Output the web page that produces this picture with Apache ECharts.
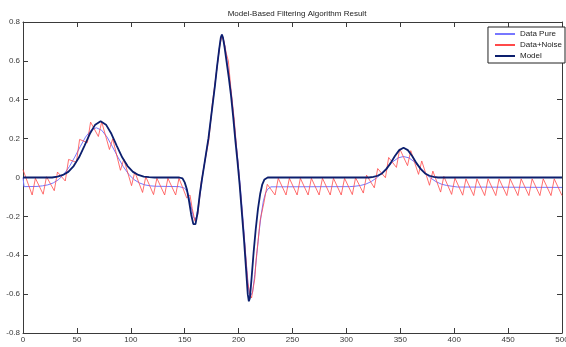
<!DOCTYPE html>
<html>
<head>
<meta charset="utf-8">
<script src="https://cdn.jsdelivr.net/npm/echarts@6/dist/echarts.min.js"></script>
<style>
  html, body { margin: 0; padding: 0; background: #fff; }
  #chart { width: 566px; height: 347px; }
</style>
</head>
<body>
<div id="chart"></div>
<script>
// x ticks / y ticks
const xTicks = [0, 50, 100, 150, 200, 250, 300, 350, 400, 450, 500];
const yTicks = [-0.8, -0.6, -0.4, -0.2, 0, 0.2, 0.4, 0.6, 0.8];

// Data Pure
const pureX = [0, 1, 13, 18, 23, 28, 33, 38, 43, 48, 53, 58, 63, 68, 73, 78, 83, 88, 93, 98, 103, 108, 113, 118, 123,
  145, 150, 153, 156, 158, 159.5, 161, 163, 165, 167, 168, 170, 172, 174, 176, 178, 180, 182, 183.5, 184.5, 185.5,
  187.5, 189.5, 191.5, 193.5, 195.5, 197.5, 199.5, 201, 203, 205, 207, 209, 210.5, 211.5, 213, 215, 217, 219, 221,
  223, 225, 227, 230, 303, 308, 313, 318, 323, 328, 333, 338, 343, 348, 353, 358, 363, 368, 373, 378, 383, 388, 393,
  398, 403, 500];
const pureY = [0, -0.047, -0.046, -0.043, -0.038, -0.028, -0.011, 0.017, 0.056, 0.105, 0.158, 0.208, 0.243, 0.256,
  0.243, 0.208, 0.158, 0.105, 0.056, 0.017, -0.011, -0.028, -0.038, -0.043, -0.045,
  -0.047, -0.055, -0.08, -0.15, -0.2, -0.217, -0.2, -0.13, -0.06, 0.025, 0.06, 0.13, 0.2, 0.29, 0.38, 0.47, 0.57,
  0.66, 0.72, 0.735, 0.72, 0.67, 0.59, 0.51, 0.42, 0.31, 0.19, 0.08, -0.01, -0.14, -0.28, -0.43, -0.56, -0.615,
  -0.625, -0.59, -0.5, -0.39, -0.28, -0.19, -0.12, -0.08, -0.06, -0.048, -0.047, -0.045, -0.041, -0.034, -0.021,
  -0.002, 0.024, 0.053, 0.081, 0.101, 0.108, 0.101, 0.081, 0.053, 0.024, -0.002, -0.021, -0.034, -0.041, -0.045,
  -0.049, -0.051];

// Data+Noise
const noiseX = [0, 8.5, 11.5, 18.7, 21.8, 29.0, 32.0, 39.2, 42.3, 49.5, 52.5, 59.7, 62.7, 69.9, 73.0, 80.2, 83.2,
  90.4, 93.5, 100.7, 103.7, 110.9, 113.9, 121.1, 124.2, 131.4, 134.4, 141.6, 144.7, 151.9, 154.9, 157, 159.5, 162.1,
  163.6, 165.1, 168, 170, 172.3, 173.8, 175.4, 178, 180, 182.6, 184.6, 186.5, 188.5, 190.5, 192.8, 195.9, 198, 200,
  203.1, 206.1, 208.5, 210.5, 212, 213.3, 215, 216.3, 218, 220, 223.5, 226.6, 233.8, 236.8, 244.0, 247.1, 254.3,
  257.3, 264.5, 267.5, 274.7, 277.8, 285.0, 288.0, 295.2, 298.3, 305.5, 308.5, 315.7, 318.7, 325.9, 329.0, 336.2,
  339.2, 346.4, 349.5, 356.7, 359.7, 366.9, 369.9, 377.1, 380.2, 387.4, 390.4, 397.6, 400.7, 407.9, 410.9, 418.1,
  421.1, 428.3, 431.4, 438.6, 441.6, 448.8, 451.9, 459.1, 462.1, 469.3, 472.3, 479.5, 482.6, 489.8, 492.8, 500];
const noiseY = [0.04, -0.09, -0.004, -0.086, 0.004, -0.068, 0.028, -0.018, 0.093, 0.078, 0.196, 0.179, 0.285, 0.211,
  0.286, 0.144, 0.199, 0.037, 0.094, -0.042, 0.029, -0.077, 0.004, -0.088, -0.004, -0.09, -0.004, -0.09, -0.004,
  -0.105, -0.09, -0.16, -0.225, -0.19, -0.12, -0.03, 0.06, 0.12, 0.19, 0.27, 0.37, 0.48, 0.565, 0.68, 0.73, 0.70,
  0.64, 0.60, 0.46, 0.30, 0.16, 0.04, -0.17, -0.37, -0.54, -0.60, -0.62, -0.61, -0.52, -0.42, -0.33, -0.22, -0.13,
  -0.035, -0.09, -0.004, -0.09, -0.004, -0.09, -0.004, -0.09, -0.004, -0.09, -0.004, -0.09, -0.004, -0.09, -0.004,
  -0.088, -0.001, -0.080, 0.012, -0.053, 0.046, -0.001, 0.103, 0.052, 0.147, 0.061, 0.138, 0.016, 0.085, -0.040,
  0.033, -0.075, 0.006, -0.087, -0.003, -0.091, -0.007, -0.093, -0.007, -0.093, -0.007, -0.093, -0.007, -0.093,
  -0.007, -0.093, -0.007, -0.093, -0.007, -0.093, -0.007, -0.093, -0.007, -0.093];

// Model
const modelX = [0, 27, 32, 37, 42, 47, 52, 57, 62, 67, 72, 77, 82, 87, 92, 97, 102, 107, 112, 117, 122, 145, 148, 150,
  152, 154, 156, 158, 159, 160, 162, 164, 166, 168, 170, 172, 174, 176, 178, 180, 182, 183.5, 184.5, 185.5, 187, 189,
  191, 193, 195, 197, 199, 201, 203, 205, 207, 208.5, 209.5, 210.5, 212, 214, 216, 218, 220, 222, 224, 227, 321, 325,
  329, 333, 337, 341, 345, 349, 353, 357, 361, 365, 369, 373, 377, 381, 385, 500];
const modelY = [0, 0, 0.005, 0.013, 0.029, 0.059, 0.104, 0.163, 0.225, 0.272, 0.29, 0.272, 0.225, 0.163, 0.104, 0.059,
  0.029, 0.013, 0.005, 0.002, 0, 0, -0.005, -0.025, -0.06, -0.12, -0.19, -0.24, -0.248, -0.24, -0.18, -0.085, -0.01,
  0.06, 0.13, 0.2, 0.29, 0.38, 0.47, 0.57, 0.66, 0.72, 0.735, 0.72, 0.67, 0.59, 0.51, 0.42, 0.31, 0.19, 0.08, -0.04,
  -0.18, -0.32, -0.48, -0.6, -0.637, -0.62, -0.52, -0.38, -0.26, -0.16, -0.085, -0.035, -0.01, 0, 0, 0.003, 0.009,
  0.021, 0.043, 0.074, 0.111, 0.141, 0.153, 0.141, 0.111, 0.074, 0.043, 0.021, 0.009, 0.003, 0, 0];

const zip = (xs, ys) => xs.map((x, i) => [x, ys[i]]);
const font = 'Liberation Sans, Arial, sans-serif';

const axisCommon = {
  type: 'value',
  axisLine: { show: true, onZero: false, lineStyle: { color: '#3a3a3a', width: 1 } },
  axisTick: { show: true, inside: true, length: 5, lineStyle: { color: '#3a3a3a', width: 1 } },
  splitLine: { show: false },
  axisLabel: { fontSize: 8, color: '#3a3a3a', fontFamily: font, margin: 3 }
};

const chart = echarts.init(document.getElementById('chart'), null, { renderer: 'canvas' });
chart.setOption({
  animation: false,
  backgroundColor: '#fff',
  title: {
    text: 'Model-Based Filtering Algorithm Result',
    left: 292,
    textAlign: 'center',
    top: 5,
    textStyle: { fontSize: 8, fontWeight: 'normal', color: '#222', fontFamily: font }
  },
  grid: { left: 23, right: 4, top: 22, bottom: 14, outerBoundsMode: 'none' },
  legend: {
    orient: 'vertical',
    right: 1,
    top: 27,
    icon: 'rect',
    itemWidth: 20,
    itemHeight: 2,
    itemGap: 3,
    padding: [3, 3, 3, 7],
    borderColor: '#222',
    borderWidth: 1,
    backgroundColor: '#fff',
    textStyle: { fontSize: 8, color: '#222', fontFamily: font },
    data: ['Data Pure', 'Data+Noise', 'Model']
  },
  xAxis: [
    Object.assign({}, axisCommon, {
      min: xTicks[0], max: xTicks[xTicks.length - 1], interval: 50, position: 'bottom'
    }),
    Object.assign({}, axisCommon, {
      min: xTicks[0], max: xTicks[xTicks.length - 1], interval: 50, position: 'top',
      axisLabel: { show: false }
    })
  ],
  yAxis: [
    Object.assign({}, axisCommon, {
      min: yTicks[0], max: yTicks[yTicks.length - 1], interval: 0.2, position: 'left'
    }),
    Object.assign({}, axisCommon, {
      min: yTicks[0], max: yTicks[yTicks.length - 1], interval: 0.2, position: 'right',
      axisLabel: { show: false }
    })
  ],
  series: [
    {
      name: 'Data Pure',
      type: 'line',
      showSymbol: false,
      data: zip(pureX, pureY),
      lineStyle: { color: '#7777ff', width: 1 },
      itemStyle: { color: '#7777ff' }
    },
    {
      name: 'Data+Noise',
      type: 'line',
      showSymbol: false,
      data: zip(noiseX, noiseY),
      lineStyle: { color: '#ff4a4a', width: 0.8 },
      itemStyle: { color: '#ff4a4a' }
    },
    {
      name: 'Model',
      type: 'line',
      showSymbol: false,
      data: zip(modelX, modelY),
      lineStyle: { color: '#0c1f6e', width: 1.8 },
      itemStyle: { color: '#0c1f6e' }
    }
  ]
});
</script>
</body>
</html>
